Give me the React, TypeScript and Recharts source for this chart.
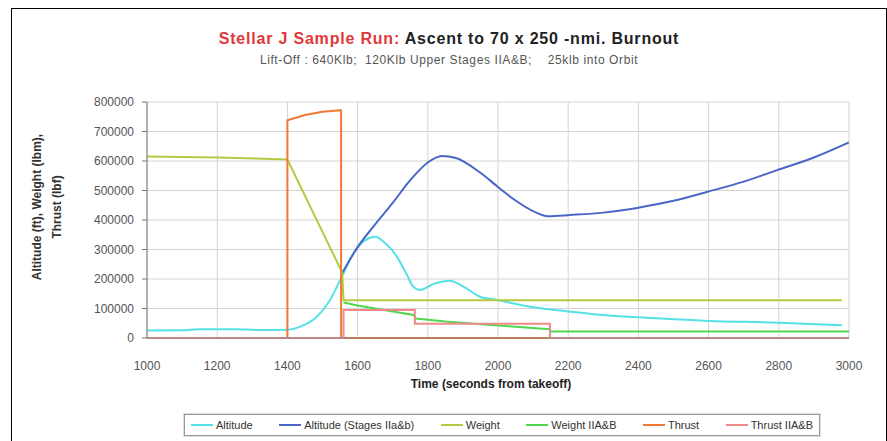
import React from 'react';
import { LineChart, Line, XAxis, YAxis, CartesianGrid } from 'recharts';

// [time (s), value]
const altitude = [
  [1000, 25000], [1100, 26000], [1150, 30000], [1250, 30000], [1320, 27000], [1400, 28000],
  [1440, 40000], [1484, 72000], [1521, 128000], [1555, 208000], [1590, 290000], [1620, 330000],
  [1650, 343000], [1680, 320000], [1712, 276000], [1740, 215000], [1760, 172000], [1778, 163000],
  [1820, 185000], [1863, 194000], [1900, 175000], [1949, 140000], [1997, 129000], [2091, 106000],
  [2200, 90000], [2300, 78000], [2400, 70000], [2600, 58000], [2800, 52000], [2980, 43000],
];
const altitudeStages = [
  [1556, 220000], [1600, 308000], [1650, 385000], [1700, 458000], [1750, 535000], [1800, 595000],
  [1840, 617000], [1880, 610000], [1950, 560000], [2000, 512000], [2050, 466000], [2100, 430000],
  [2143, 413000], [2205, 417000], [2300, 425000], [2396, 441000], [2500, 465000], [2595, 495000],
  [2700, 530000], [2795, 569000], [2900, 612000], [3000, 663000],
];
const weight = [
  [1000, 615000], [1200, 612000], [1400, 605000], [1556, 222000], [1560, 128000], [2980, 128000],
];
const weightStages = [
  [1560, 120000], [1600, 110000], [1650, 100000], [1700, 90000], [1760, 78000], [1766, 66000],
  [1850, 56000], [1950, 47000], [2050, 38000], [2148, 30000], [2150, 22000], [3000, 22000],
];
const thrust = [
  [1000, 0], [1400, 0], [1400, 738000], [1450, 756000], [1500, 767000], [1550, 772000],
  [1553, 772000], [1553, 0], [3000, 0],
];
const thrustStages = [
  [1000, 0], [1560, 0], [1560, 95000], [1763, 95000], [1763, 48000], [2148, 48000], [2148, 0], [3000, 0],
];

const xTicks = [1000, 1200, 1400, 1600, 1800, 2000, 2200, 2400, 2600, 2800, 3000];
const yTicks = [0, 100000, 200000, 300000, 400000, 500000, 600000, 700000, 800000];

const seriesNames = ['Altitude', 'Altitude (Stages IIa&b)', 'Weight', 'Weight IIA&B', 'Thrust', 'Thrust IIA&B'];
const seriesData = [altitude, altitudeStages, weight, weightStages, thrust, thrustStages];
const colors = ['#55e2e6', '#4a66c8', '#b2cc42', '#4fd84f', '#ee7a34', '#f08a8a'];

const toPoints = (arr: number[][]) => arr.map(([t, v]) => ({ t, v }));

const font = 'Arial, "Liberation Sans", sans-serif';

const App: React.FC = () => {
  return (
    <div style={{ position: 'absolute', left: 0, top: 0, width: 887, height: 441, background: '#fff', fontFamily: font }}>
      <div style={{ position: 'absolute', left: 11, top: 8, width: 874, height: 440, borderTop: '1px solid #000', borderLeft: '1px solid #000', borderRight: '1px solid #000' }} />

      <div style={{ position: 'absolute', left: 0, width: 898, top: 30, textAlign: 'center', fontSize: 16, fontWeight: 'bold', letterSpacing: 0.8, color: '#222' }}>
        <span style={{ color: '#e0383a' }}>Stellar J Sample Run:</span> Ascent to 70 x 250 -nmi. Burnout
      </div>
      <div style={{ position: 'absolute', left: 0, width: 898, top: 53, textAlign: 'center', fontSize: 12, letterSpacing: 0.6, color: '#555', whiteSpace: 'pre' }}>
        {'Lift-Off : 640Klb;  120Klb Upper Stages IIA&B;    25klb into Orbit'}
      </div>

      <div style={{ position: 'absolute', left: 47 - 110, top: 207 - 20, width: 220, height: 40, transform: 'rotate(-90deg)', textAlign: 'center', fontSize: 12, fontWeight: 'bold', lineHeight: '20px', color: '#333' }}>
        Altitude (ft), Weight (lbm),<br />Thrust (lbf)
      </div>

      <LineChart width={887} height={441} margin={{ top: 102, right: 38, left: 0, bottom: 73 }}>
        <CartesianGrid stroke="#d4d4d4" />
        <XAxis
          dataKey="t"
          type="number"
          domain={[1000, 3000]}
          ticks={xTicks}
          allowDataOverflow
          tickLine={false}
          tickMargin={17}
          height={30}
          axisLine={{ stroke: '#888' }}
          tick={{ fontSize: 12, fill: '#555', fontFamily: font }}
        />
        <YAxis
          type="number"
          domain={[0, 800000]}
          ticks={yTicks}
          width={147}
          tickSize={5}
          tickMargin={8}
          axisLine={{ stroke: '#777' }}
          tickLine={{ stroke: '#777' }}
          tick={{ fontSize: 12, fill: '#555', fontFamily: font }}
        />
        {seriesData.map((d, i) => (
          <Line
            key={seriesNames[i]}
            data={toPoints(d)}
            dataKey="v"
            name={seriesNames[i]}
            type={i < 2 ? 'monotone' : 'linear'}
            stroke={colors[i]}
            strokeWidth={2}
            dot={false}
            isAnimationActive={false}
          />
        ))}
      </LineChart>

      <div style={{ position: 'absolute', left: 0, width: 982, top: 377, textAlign: 'center', fontSize: 12, fontWeight: 'bold', color: '#222' }}>
        Time (seconds from takeoff)
      </div>

      <div style={{ position: 'absolute', left: 184, top: 414, width: 636, height: 22, border: '1px solid #999', boxShadow: '0 0 0 1px #ddd', display: 'flex', alignItems: 'center', justifyContent: 'space-between', padding: '0 6px', boxSizing: 'border-box', fontSize: 11, color: '#333' }}>
        {seriesNames.map((n, i) => (
          <div key={n} style={{ display: 'flex', alignItems: 'center' }}>
            <div style={{ width: 22, height: 2, background: colors[i], marginRight: 3 }} />
            <span>{n}</span>
          </div>
        ))}
      </div>
    </div>
  );
};

export default App;
